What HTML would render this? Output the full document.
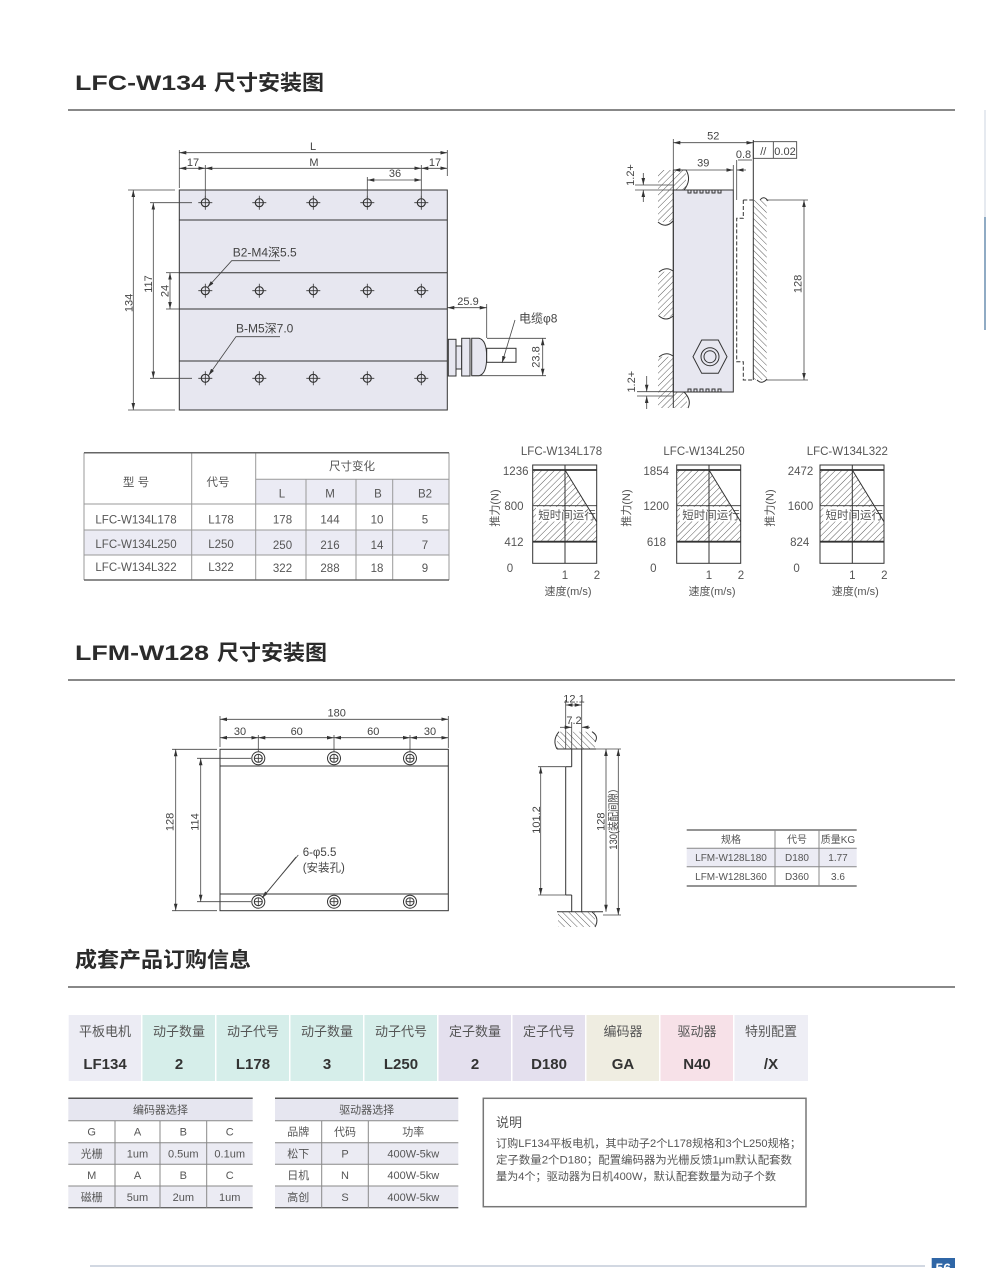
<!DOCTYPE html>
<html><head><meta charset="utf-8">
<style>
html,body{margin:0;padding:0;background:#fff;}
svg{display:block;}
text{font-family:"Liberation Sans","Noto Sans CJK SC",sans-serif;fill:#444;}
.h{font-size:21px;font-weight:bold;fill:#2b2b2b;}
.d{font-size:11px;fill:#444;}
.c{font-size:11.5px;fill:#555;}
.s{font-size:10px;fill:#555;}
.oh{font-size:13px;fill:#555;}
.ov{font-size:15px;font-weight:bold;fill:#333;}
.e{font-size:11px;fill:#555;}
</style></head><body>
<svg width="986" height="1268" viewBox="0 0 986 1268" xmlns="http://www.w3.org/2000/svg">
<defs>
<marker id="ar" viewBox="0 0 10 10" refX="10" refY="5" markerWidth="7" markerHeight="4" markerUnits="userSpaceOnUse" orient="auto-start-reverse" preserveAspectRatio="none"><path d="M0,0.5L10,5L0,9.5z" fill="#333"/></marker>
<pattern id="hf" width="4.5" height="4.5" patternUnits="userSpaceOnUse" patternTransform="rotate(45)"><line x1="0" y1="-1" x2="0" y2="6" stroke="#333" stroke-width="0.8"/></pattern>
<pattern id="hb" width="4.5" height="4.5" patternUnits="userSpaceOnUse" patternTransform="rotate(-45)"><line x1="0" y1="-1" x2="0" y2="6" stroke="#333" stroke-width="0.8"/></pattern>
<g id="h1"><circle r="4" fill="none" stroke="#333" stroke-width="1.2"/><path d="M-7,0H7M0,-7V7" stroke="#333" stroke-width="0.8"/></g>
<g id="h2"><circle r="6.5" fill="#fff" stroke="#333" stroke-width="1"/><circle r="4" fill="none" stroke="#333" stroke-width="1"/><path d="M-4,0H4M0,-4V4" stroke="#333" stroke-width="0.8"/></g>
</defs>

<!-- ===== Section titles ===== -->
<text class="h" x="75" y="90" textLength="131" lengthAdjust="spacingAndGlyphs">LFC-W134</text>
<text class="h" x="214" y="90" textLength="110" lengthAdjust="spacingAndGlyphs">尺寸安装图</text>
<line x1="68" y1="110" x2="955" y2="110" stroke="#888" stroke-width="2"/>

<text class="h" x="75" y="660" textLength="134" lengthAdjust="spacingAndGlyphs">LFM-W128</text>
<text class="h" x="217" y="660" textLength="110" lengthAdjust="spacingAndGlyphs">尺寸安装图</text>
<line x1="68" y1="680" x2="955" y2="680" stroke="#888" stroke-width="2"/>

<text class="h" x="75" y="967" textLength="176" lengthAdjust="spacingAndGlyphs">成套产品订购信息</text>
<line x1="68" y1="987" x2="955" y2="987" stroke="#888" stroke-width="2"/>

<!-- right edge line -->
<line x1="985" y1="110" x2="985" y2="217" stroke="#dde2ea" stroke-width="1.5"/>
<line x1="985" y1="217" x2="985" y2="330" stroke="#6a8fb0" stroke-width="1.5"/>

<!-- ===== Top-left plan view ===== -->
<g stroke="#333" fill="none" stroke-width="1">
<rect x="179.3" y="190" width="268" height="220" fill="#e7e7f0"/>
<line x1="179.3" y1="220" x2="447.3" y2="220"/>
<line x1="179.3" y1="272.7" x2="447.3" y2="272.7"/>
<line x1="179.3" y1="309" x2="447.3" y2="309"/>
<line x1="179.3" y1="361" x2="447.3" y2="361"/>
</g>
<use href="#h1" x="205.3" y="202.7"/><use href="#h1" x="259.3" y="202.7"/><use href="#h1" x="313.3" y="202.7"/><use href="#h1" x="367.3" y="202.7"/><use href="#h1" x="421.3" y="202.7"/>
<use href="#h1" x="205.3" y="290.7"/><use href="#h1" x="259.3" y="290.7"/><use href="#h1" x="313.3" y="290.7"/><use href="#h1" x="367.3" y="290.7"/><use href="#h1" x="421.3" y="290.7"/>
<use href="#h1" x="205.3" y="378.3"/><use href="#h1" x="259.3" y="378.3"/><use href="#h1" x="313.3" y="378.3"/><use href="#h1" x="367.3" y="378.3"/><use href="#h1" x="421.3" y="378.3"/>

<!-- connector -->
<g stroke="#333" stroke-width="1" fill="#e7e7f0">
<rect x="448.3" y="339.3" width="7.7" height="36.7"/>
<rect x="456" y="346" width="5.7" height="23"/>
<rect x="461.7" y="338.3" width="8.3" height="37.7"/>
<path d="M471.7,338.3 H479 Q486.7,340 486.7,357 Q486.7,374 479,375.7 H471.7 Z"/>
<rect x="486.7" y="348.3" width="29.3" height="14" fill="#fff"/>
</g>

<g stroke="#444" stroke-width="0.8" fill="none">
<line x1="179.3" y1="150" x2="179.3" y2="188"/>
<line x1="447.3" y1="150" x2="447.3" y2="176"/>
<line x1="179.3" y1="152.7" x2="447.3" y2="152.7" marker-start="url(#ar)" marker-end="url(#ar)"/>
<line x1="179.3" y1="168.3" x2="205.3" y2="168.3" marker-start="url(#ar)" marker-end="url(#ar)"/>
<line x1="205.3" y1="168.3" x2="421.3" y2="168.3" marker-start="url(#ar)" marker-end="url(#ar)"/>
<line x1="421.3" y1="168.3" x2="447.3" y2="168.3" marker-start="url(#ar)" marker-end="url(#ar)"/>
<line x1="205.3" y1="165" x2="205.3" y2="199"/>
<line x1="421.3" y1="165" x2="421.3" y2="199"/>
<line x1="367.3" y1="177" x2="367.3" y2="199"/>
<line x1="367.3" y1="180" x2="421.3" y2="180" marker-start="url(#ar)" marker-end="url(#ar)"/>
<line x1="128" y1="190" x2="175" y2="190"/>
<line x1="128" y1="410" x2="175" y2="410"/>
<line x1="133.3" y1="190" x2="133.3" y2="410" marker-start="url(#ar)" marker-end="url(#ar)"/>
<line x1="150" y1="202.7" x2="192" y2="202.7"/>
<line x1="150" y1="378.3" x2="192" y2="378.3"/>
<line x1="153.3" y1="202.7" x2="153.3" y2="378.3" marker-start="url(#ar)" marker-end="url(#ar)"/>
<line x1="166" y1="272.7" x2="179" y2="272.7"/>
<line x1="166" y1="309" x2="179" y2="309"/>
<line x1="170" y1="272.7" x2="170" y2="309" marker-start="url(#ar)" marker-end="url(#ar)"/>
<line x1="486.7" y1="304" x2="486.7" y2="338"/>
<line x1="447.3" y1="307.7" x2="486.7" y2="307.7" marker-start="url(#ar)" marker-end="url(#ar)"/>
<line x1="487" y1="338.3" x2="546" y2="338.3"/>
<line x1="472" y1="375.7" x2="546" y2="375.7"/>
<line x1="542.7" y1="338.3" x2="542.7" y2="375.7" marker-start="url(#ar)" marker-end="url(#ar)"/>
<polyline points="280,260.7 231.7,260.7 207.5,287.5" marker-end="url(#ar)"/>
<polyline points="280,336.7 236,336.7 208.5,375.5" marker-end="url(#ar)"/>
<line x1="515" y1="320" x2="502" y2="363" marker-end="url(#ar)"/>
</g>
<text class="d" x="313" y="150" text-anchor="middle">L</text>
<text class="d" x="193" y="166" text-anchor="middle">17</text>
<text class="d" x="314" y="166" text-anchor="middle">M</text>
<text class="d" x="435" y="166" text-anchor="middle">17</text>
<text class="d" x="395" y="177" text-anchor="middle">36</text>
<text class="d" transform="translate(132.5,303) rotate(-90)" text-anchor="middle">134</text>
<text class="d" transform="translate(152,284) rotate(-90)" text-anchor="middle">117</text>
<text class="d" transform="translate(168.5,291) rotate(-90)" text-anchor="middle">24</text>
<text class="d" x="468" y="305" text-anchor="middle">25.9</text>
<text class="d" transform="translate(539.5,357) rotate(-90)" text-anchor="middle">23.8</text>
<text class="d" x="232.7" y="256.7" style="font-size:12px">B2-M4深5.5</text>
<text class="d" x="236" y="332.7" style="font-size:12px">B-M5深7.0</text>
<text class="d" x="519" y="322.7" style="font-size:12px">电缆φ8</text>

<!-- ===== Top-right side view ===== -->
<rect x="658" y="170" width="15" height="52" fill="url(#hf)"/>
<rect x="673" y="170" width="13" height="20" fill="url(#hf)"/>
<rect x="658" y="271.7" width="15" height="45" fill="url(#hf)"/>
<rect x="658" y="356.7" width="15" height="51.3" fill="url(#hf)"/>
<rect x="673" y="392" width="14" height="16" fill="url(#hf)"/>
<rect x="753.3" y="200" width="13.4" height="180" fill="url(#hb)"/>
<g stroke="#333" fill="none" stroke-width="1">
<rect x="673.3" y="190" width="60" height="202" fill="#e7e7f0"/>
<line x1="673.3" y1="170" x2="673.3" y2="408"/>
<path d="M673.3,170 H686 Q692,180 684,190"/>
<path d="M658,222 Q666,229 673,221"/>
<path d="M659,272 Q666,266 673,271"/>
<path d="M659,316 Q666,322 673,316"/>
<path d="M659,357 Q666,351 673,356"/>
<path d="M684,392 Q692,400 688,408"/>
<line x1="753.3" y1="140" x2="753.3" y2="380"/>
<path d="M760,200 Q764,195 768,201"/>
<path d="M757,380 Q762,385 767,379"/>
<path d="M688,190 V193 H691 V190 H694 V193 H697 V190 H700 V193 H703 V190 H706 V193 H709 V190 H712 V193 H715 V190 H718 V193 H721 V190"/>
<path d="M688,392 V389 H691 V392 H694 V389 H697 V392 H700 V389 H703 V392 H706 V389 H709 V392 H712 V389 H715 V392 H718 V389 H721 V392"/>
<polygon points="693,356.7 701.7,340 718.3,340 727,356.7 718.3,373.3 701.7,373.3" fill="#e7e7f0"/>
<circle cx="710" cy="356.7" r="9"/>
<circle cx="710" cy="356.7" r="6"/>
<path d="M743.3,200 H753.3 M743.3,200 V218.3 H736.7 V361.7 H743.3 V380 H753.3" stroke-dasharray="4,2"/>
</g>
<g stroke="#444" stroke-width="0.8" fill="none">
<line x1="673.3" y1="139" x2="673.3" y2="170"/>
<line x1="673.3" y1="142.7" x2="753.3" y2="142.7" marker-start="url(#ar)" marker-end="url(#ar)"/>
<line x1="733.3" y1="165" x2="733.3" y2="190"/>
<line x1="736.7" y1="160" x2="736.7" y2="200"/>
<line x1="673.3" y1="170" x2="733.3" y2="170" marker-start="url(#ar)" marker-end="url(#ar)"/>
<line x1="746" y1="170" x2="736.7" y2="170" marker-end="url(#ar)"/>
<line x1="738" y1="160" x2="752" y2="160"/>
<rect x="753.3" y="141.7" width="43.4" height="16.6" stroke="#333"/>
<line x1="773.3" y1="141.7" x2="773.3" y2="158.3" stroke="#333"/>
<line x1="766" y1="200" x2="808" y2="200"/>
<line x1="766" y1="380" x2="808" y2="380"/>
<line x1="804" y1="200" x2="804" y2="380" marker-start="url(#ar)" marker-end="url(#ar)"/>
<line x1="635" y1="185" x2="673" y2="185"/>
<line x1="635" y1="190" x2="673" y2="190"/>
<line x1="643.3" y1="173" x2="643.3" y2="185" marker-end="url(#ar)"/>
<line x1="643.3" y1="202" x2="643.3" y2="190" marker-end="url(#ar)"/>
<line x1="637" y1="391.7" x2="673" y2="391.7"/>
<line x1="637" y1="396" x2="673" y2="396"/>
<line x1="646.7" y1="376" x2="646.7" y2="391.7" marker-end="url(#ar)"/>
<line x1="646.7" y1="409" x2="646.7" y2="396" marker-end="url(#ar)"/>
</g>
<text class="d" x="713.3" y="139.3" text-anchor="middle">52</text>
<text class="d" x="703.3" y="166.7" text-anchor="middle">39</text>
<text class="d" x="743.5" y="158" text-anchor="middle">0.8</text>
<text class="d" x="763.3" y="155" text-anchor="middle">//</text>
<text class="d" x="785" y="155" text-anchor="middle">0.02</text>
<text class="d" transform="translate(634,175) rotate(-90)" text-anchor="middle">1.2+</text>
<text class="d" transform="translate(635,381.7) rotate(-90)" text-anchor="middle">1.2+</text>
<text class="d" transform="translate(801.5,284) rotate(-90)" text-anchor="middle">128</text>

<!-- ===== Table 1 ===== -->
<rect x="255.7" y="479.3" width="193.3" height="24.7" fill="#ebebf4"/>
<rect x="84" y="530" width="365" height="25" fill="#ebebf4"/>
<g stroke="#999" stroke-width="1" fill="none">
<line x1="84" y1="452.7" x2="84" y2="580"/>
<line x1="449" y1="452.7" x2="449" y2="580"/>
<line x1="191.7" y1="452.7" x2="191.7" y2="580"/>
<line x1="255.7" y1="452.7" x2="255.7" y2="580"/>
<line x1="306" y1="479.3" x2="306" y2="580"/>
<line x1="356" y1="479.3" x2="356" y2="580"/>
<line x1="392.7" y1="479.3" x2="392.7" y2="580"/>
<line x1="255.7" y1="479.3" x2="449" y2="479.3"/>
<line x1="84" y1="504" x2="449" y2="504"/>
<line x1="84" y1="530" x2="449" y2="530"/>
<line x1="84" y1="555" x2="449" y2="555"/>
<line x1="84" y1="452.7" x2="449" y2="452.7" stroke="#666" stroke-width="1.5"/>
<line x1="84" y1="580" x2="449" y2="580" stroke="#666" stroke-width="1.5"/>
</g>
<g class="c" text-anchor="middle">
<text class="c" x="136" y="486" text-anchor="middle">型 号</text>
<text class="c" x="218" y="486" text-anchor="middle">代号</text>
<text class="c" x="352" y="470" text-anchor="middle">尺寸变化</text>
<text class="c" x="282" y="497.5" text-anchor="middle">L</text>
<text class="c" x="330" y="497.5" text-anchor="middle">M</text>
<text class="c" x="378" y="497.5" text-anchor="middle">B</text>
<text class="c" x="425" y="497.5" text-anchor="middle">B2</text>
<text class="c" x="136" y="523.5" text-anchor="middle">LFC-W134L178</text>
<text class="c" x="221" y="523.5" text-anchor="middle">L178</text>
<text class="c" x="282.5" y="523.5" text-anchor="middle">178</text>
<text class="c" x="330" y="523.5" text-anchor="middle">144</text>
<text class="c" x="377" y="523.5" text-anchor="middle">10</text>
<text class="c" x="425" y="523.5" text-anchor="middle">5</text>
<text class="c" x="136" y="548" text-anchor="middle">LFC-W134L250</text>
<text class="c" x="221" y="548" text-anchor="middle">L250</text>
<text class="c" x="282.5" y="549" text-anchor="middle">250</text>
<text class="c" x="330" y="549" text-anchor="middle">216</text>
<text class="c" x="377" y="549" text-anchor="middle">14</text>
<text class="c" x="425" y="549" text-anchor="middle">7</text>
<text class="c" x="136" y="571" text-anchor="middle">LFC-W134L322</text>
<text class="c" x="221" y="571" text-anchor="middle">L322</text>
<text class="c" x="282.5" y="572" text-anchor="middle">322</text>
<text class="c" x="330" y="572" text-anchor="middle">288</text>
<text class="c" x="377" y="572" text-anchor="middle">18</text>
<text class="c" x="425" y="572" text-anchor="middle">9</text>
</g>

<!-- ===== Charts ===== -->
<g id="ch1">
<text class="c" x="561.5" y="455" text-anchor="middle">LFC-W134L178</text>
<polygon points="532.7,470 565,470 596.7,521.7 596.7,541.7 532.7,541.7" fill="url(#hf)"/>
<rect x="536" y="507" width="60.7" height="14.5" fill="#fff"/>
<text class="c" x="567" y="519" text-anchor="middle">短时间运行</text>
<g stroke="#333" fill="none">
<rect x="532.7" y="465" width="64" height="98.3" stroke-width="1"/>
<line x1="532.7" y1="470" x2="596.7" y2="470" stroke-width="1.8"/>
<line x1="532.7" y1="505.7" x2="596.7" y2="505.7" stroke-width="0.8"/>
<line x1="532.7" y1="541.7" x2="596.7" y2="541.7" stroke-width="1.8"/>
<line x1="565" y1="465" x2="565" y2="563.3" stroke-width="1"/>
<line x1="565" y1="470" x2="596.7" y2="521.7" stroke-width="1"/>
</g>
<text class="c" x="528.5" y="475" text-anchor="end">1236</text>
<text class="c" x="523.5" y="510" text-anchor="end">800</text>
<text class="c" x="523.5" y="546" text-anchor="end">412</text>
<text class="c" x="510" y="572" text-anchor="middle">0</text>
<text class="c" x="565" y="579" text-anchor="middle">1</text>
<text class="c" x="597" y="579" text-anchor="middle">2</text>
<text class="c" x="568" y="595" text-anchor="middle" style="font-size:11px">速度(m/s)</text>
<text class="c" transform="translate(498.5,508) rotate(-90)" text-anchor="middle" style="font-size:11px">推力(N)</text>
</g>
<g transform="translate(144,0)">
<text class="c" x="560" y="455" text-anchor="middle">LFC-W134L250</text>
<polygon points="532.7,470 565,470 596.7,521.7 596.7,541.7 532.7,541.7" fill="url(#hf)"/>
<rect x="536" y="507" width="60.7" height="14.5" fill="#fff"/>
<text class="c" x="567" y="519" text-anchor="middle">短时间运行</text>
<g stroke="#333" fill="none">
<rect x="532.7" y="465" width="64" height="98.3" stroke-width="1"/>
<line x1="532.7" y1="470" x2="596.7" y2="470" stroke-width="1.8"/>
<line x1="532.7" y1="505.7" x2="596.7" y2="505.7" stroke-width="0.8"/>
<line x1="532.7" y1="541.7" x2="596.7" y2="541.7" stroke-width="1.8"/>
<line x1="565" y1="465" x2="565" y2="563.3" stroke-width="1"/>
<line x1="565" y1="470" x2="596.7" y2="521.7" stroke-width="1"/>
</g>
<text class="c" x="525" y="475" text-anchor="end">1854</text>
<text class="c" x="525" y="510" text-anchor="end">1200</text>
<text class="c" x="522" y="546" text-anchor="end">618</text>
<text class="c" x="509.3" y="572" text-anchor="middle">0</text>
<text class="c" x="565" y="579" text-anchor="middle">1</text>
<text class="c" x="597" y="579" text-anchor="middle">2</text>
<text class="c" x="568" y="595" text-anchor="middle" style="font-size:11px">速度(m/s)</text>
<text class="c" transform="translate(486,508) rotate(-90)" text-anchor="middle" style="font-size:11px">推力(N)</text>
</g>
<g transform="translate(287.3,0)">
<text class="c" x="560" y="455" text-anchor="middle">LFC-W134L322</text>
<polygon points="532.7,470 565,470 596.7,521.7 596.7,541.7 532.7,541.7" fill="url(#hf)"/>
<rect x="536" y="507" width="60.7" height="14.5" fill="#fff"/>
<text class="c" x="567" y="519" text-anchor="middle">短时间运行</text>
<g stroke="#333" fill="none">
<rect x="532.7" y="465" width="64" height="98.3" stroke-width="1"/>
<line x1="532.7" y1="470" x2="596.7" y2="470" stroke-width="1.8"/>
<line x1="532.7" y1="505.7" x2="596.7" y2="505.7" stroke-width="0.8"/>
<line x1="532.7" y1="541.7" x2="596.7" y2="541.7" stroke-width="1.8"/>
<line x1="565" y1="465" x2="565" y2="563.3" stroke-width="1"/>
<line x1="565" y1="470" x2="596.7" y2="521.7" stroke-width="1"/>
</g>
<text class="c" x="526" y="475" text-anchor="end">2472</text>
<text class="c" x="526" y="510" text-anchor="end">1600</text>
<text class="c" x="522" y="546" text-anchor="end">824</text>
<text class="c" x="509.3" y="572" text-anchor="middle">0</text>
<text class="c" x="565" y="579" text-anchor="middle">1</text>
<text class="c" x="597" y="579" text-anchor="middle">2</text>
<text class="c" x="568" y="595" text-anchor="middle" style="font-size:11px">速度(m/s)</text>
<text class="c" transform="translate(486,508) rotate(-90)" text-anchor="middle" style="font-size:11px">推力(N)</text>
</g>

<!-- ===== Section 2 plan view ===== -->
<g stroke="#333" fill="none" stroke-width="1">
<rect x="220" y="749.3" width="228.3" height="161.4"/>
<line x1="220" y1="766" x2="448.3" y2="766"/>
<line x1="220" y1="894" x2="448.3" y2="894"/>
</g>
<use href="#h2" x="258.3" y="758.3"/><use href="#h2" x="334" y="758.3"/><use href="#h2" x="410" y="758.3"/>
<use href="#h2" x="258.3" y="901.7"/><use href="#h2" x="334" y="901.7"/><use href="#h2" x="410" y="901.7"/>
<g stroke="#444" stroke-width="0.8" fill="none">
<line x1="220" y1="716" x2="220" y2="747"/>
<line x1="448.3" y1="716" x2="448.3" y2="748"/>
<line x1="220" y1="719.3" x2="448.3" y2="719.3" marker-start="url(#ar)" marker-end="url(#ar)"/>
<line x1="220" y1="737.7" x2="258.3" y2="737.7" marker-start="url(#ar)" marker-end="url(#ar)"/>
<line x1="258.3" y1="737.7" x2="334" y2="737.7" marker-start="url(#ar)" marker-end="url(#ar)"/>
<line x1="334" y1="737.7" x2="410" y2="737.7" marker-start="url(#ar)" marker-end="url(#ar)"/>
<line x1="410" y1="737.7" x2="448.3" y2="737.7" marker-start="url(#ar)" marker-end="url(#ar)"/>
<line x1="258.3" y1="735" x2="258.3" y2="752"/>
<line x1="334" y1="735" x2="334" y2="752"/>
<line x1="410" y1="735" x2="410" y2="752"/>
<line x1="172" y1="749.3" x2="217" y2="749.3"/>
<line x1="172" y1="910.7" x2="217" y2="910.7"/>
<line x1="175.7" y1="749.3" x2="175.7" y2="910.7" marker-start="url(#ar)" marker-end="url(#ar)"/>
<line x1="197" y1="758.3" x2="251" y2="758.3"/>
<line x1="197" y1="901.7" x2="251" y2="901.7"/>
<line x1="200.7" y1="758.3" x2="200.7" y2="901.7" marker-start="url(#ar)" marker-end="url(#ar)"/>
<line x1="298.3" y1="855" x2="262" y2="898" marker-end="url(#ar)"/>
<line x1="296" y1="857" x2="264" y2="896"/>
</g>
<text class="d" x="336.7" y="716.7" text-anchor="middle">180</text>
<text class="d" x="240" y="735" text-anchor="middle">30</text>
<text class="d" x="296.7" y="735" text-anchor="middle">60</text>
<text class="d" x="373.3" y="735" text-anchor="middle">60</text>
<text class="d" x="430" y="735" text-anchor="middle">30</text>
<text class="d" transform="translate(173.5,822) rotate(-90)" text-anchor="middle">128</text>
<text class="d" transform="translate(198.5,822) rotate(-90)" text-anchor="middle">114</text>
<text class="d" x="302.7" y="856" style="font-size:11.5px">6-φ5.5</text>
<text class="d" x="302.7" y="871.7" style="font-size:11.5px">(安装孔)</text>

<!-- ===== Section 2 side view ===== -->
<path d="M557,731.7 H595 V749 H557 Z" fill="url(#hb)"/>
<path d="M558,911.7 H595 V927 H558 Z" fill="url(#hb)"/>
<g stroke="#333" fill="none" stroke-width="1">
<path d="M559,731.7 Q552,740 557,749"/>
<path d="M592,731.7 Q599,736 595,742"/>
<line x1="557" y1="749" x2="596" y2="749"/>
<line x1="557" y1="911.7" x2="603" y2="911.7"/>
<path d="M592,912 Q600,918 595,927"/>
<line x1="581.7" y1="749" x2="581.7" y2="911.7"/>
<line x1="565.7" y1="766.7" x2="565.7" y2="895"/>
<line x1="571.7" y1="749" x2="571.7" y2="766.7"/>
<line x1="571.7" y1="895" x2="571.7" y2="911.7"/>
<line x1="565.7" y1="766.7" x2="571.7" y2="766.7"/>
<line x1="565.7" y1="895" x2="571.7" y2="895"/>
</g>
<g stroke="#444" stroke-width="0.8" fill="none">
<line x1="565.7" y1="700" x2="565.7" y2="749"/>
<line x1="581.7" y1="700" x2="581.7" y2="749"/>
<line x1="571.7" y1="722" x2="571.7" y2="749"/>
<line x1="565.7" y1="705" x2="581.7" y2="705" marker-start="url(#ar)" marker-end="url(#ar)"/>
<line x1="560" y1="727.3" x2="571.7" y2="727.3" marker-end="url(#ar)"/>
<line x1="590" y1="727.3" x2="581.7" y2="727.3" marker-end="url(#ar)"/>
<line x1="538" y1="766.7" x2="565.7" y2="766.7"/>
<line x1="538" y1="895" x2="565.7" y2="895"/>
<line x1="540.7" y1="766.7" x2="540.7" y2="895" marker-start="url(#ar)" marker-end="url(#ar)"/>
<line x1="596" y1="749" x2="621" y2="749"/>
<line x1="603" y1="915" x2="621" y2="915"/>
<line x1="606" y1="749" x2="606" y2="911.7" marker-start="url(#ar)" marker-end="url(#ar)"/>
<line x1="618.3" y1="749" x2="618.3" y2="915" marker-start="url(#ar)" marker-end="url(#ar)"/>
</g>
<text class="d" x="574" y="702.3" text-anchor="middle">12.1</text>
<text class="d" x="574" y="724" text-anchor="middle">7.2</text>
<text class="d" transform="translate(540,820) rotate(-90)" text-anchor="middle">101.2</text>
<text class="d" transform="translate(604.5,821.7) rotate(-90)" text-anchor="middle">128</text>
<text class="d" transform="translate(617,816.7) rotate(-90)" text-anchor="middle" textLength="66" lengthAdjust="spacingAndGlyphs">130(装配间隙）</text>

<!-- small table -->
<rect x="686.7" y="848.3" width="170" height="18.4" fill="#ebebf4"/>
<g stroke="#888" stroke-width="1">
<line x1="686.7" y1="830" x2="856.7" y2="830" stroke="#555" stroke-width="1.3"/>
<line x1="686.7" y1="848.3" x2="856.7" y2="848.3"/>
<line x1="686.7" y1="866.7" x2="856.7" y2="866.7"/>
<line x1="686.7" y1="886" x2="856.7" y2="886" stroke="#555" stroke-width="1.3"/>
<line x1="775" y1="830" x2="775" y2="886"/>
<line x1="819" y1="830" x2="819" y2="886"/>
</g>
<text class="s" x="731" y="843" text-anchor="middle">规格</text>
<text class="s" x="797" y="843" text-anchor="middle">代号</text>
<text class="s" x="838" y="843" text-anchor="middle">质量KG</text>
<text class="s" x="731" y="861" text-anchor="middle">LFM-W128L180</text>
<text class="s" x="797" y="861" text-anchor="middle">D180</text>
<text class="s" x="838" y="861" text-anchor="middle">1.77</text>
<text class="s" x="731" y="880" text-anchor="middle">LFM-W128L360</text>
<text class="s" x="797" y="880" text-anchor="middle">D360</text>
<text class="s" x="838" y="880" text-anchor="middle">3.6</text>

<!-- ===== Order table ===== -->
<rect x="68.7" y="1015" width="72.3" height="66" fill="#ececf4"/>
<rect x="142.5" y="1015" width="72.5" height="66" fill="#d6eeea"/>
<rect x="216.5" y="1015" width="72.5" height="66" fill="#d6eeea"/>
<rect x="290.5" y="1015" width="72.5" height="66" fill="#d6eeea"/>
<rect x="364.5" y="1015" width="72.5" height="66" fill="#d6eeea"/>
<rect x="438.5" y="1015" width="72.5" height="66" fill="#e4e0ee"/>
<rect x="512.5" y="1015" width="72.5" height="66" fill="#e4e0ee"/>
<rect x="586.5" y="1015" width="72.5" height="66" fill="#efede1"/>
<rect x="660.5" y="1015" width="72.5" height="66" fill="#f7e1e8"/>
<rect x="734.5" y="1015" width="73.5" height="66" fill="#eeeef5"/>
<g text-anchor="middle">
<text class="oh" x="105" y="1036" text-anchor="middle">平板电机</text>
<text class="oh" x="179" y="1036" text-anchor="middle">动子数量</text>
<text class="oh" x="253" y="1036" text-anchor="middle">动子代号</text>
<text class="oh" x="327" y="1036" text-anchor="middle">动子数量</text>
<text class="oh" x="401" y="1036" text-anchor="middle">动子代号</text>
<text class="oh" x="475" y="1036" text-anchor="middle">定子数量</text>
<text class="oh" x="549" y="1036" text-anchor="middle">定子代号</text>
<text class="oh" x="623" y="1036" text-anchor="middle">编码器</text>
<text class="oh" x="697" y="1036" text-anchor="middle">驱动器</text>
<text class="oh" x="771" y="1036" text-anchor="middle">特别配置</text>
<text class="ov" x="105" y="1069" text-anchor="middle">LF134</text>
<text class="ov" x="179" y="1069" text-anchor="middle">2</text>
<text class="ov" x="253" y="1069" text-anchor="middle">L178</text>
<text class="ov" x="327" y="1069" text-anchor="middle">3</text>
<text class="ov" x="401" y="1069" text-anchor="middle">L250</text>
<text class="ov" x="475" y="1069" text-anchor="middle">2</text>
<text class="ov" x="549" y="1069" text-anchor="middle">D180</text>
<text class="ov" x="623" y="1069" text-anchor="middle">GA</text>
<text class="ov" x="697" y="1069" text-anchor="middle">N40</text>
<text class="ov" x="771" y="1069" text-anchor="middle">/X</text>
</g>

<!-- encoder table -->
<rect x="68.3" y="1098.3" width="184.4" height="22.4" fill="#e6e6f0"/>
<rect x="68.3" y="1142.7" width="184.4" height="21.6" fill="#ebebf3"/>
<rect x="68.3" y="1186" width="184.4" height="21.7" fill="#ebebf3"/>
<g stroke="#888" stroke-width="1">
<line x1="68.3" y1="1098.3" x2="252.7" y2="1098.3" stroke="#555" stroke-width="1.5"/>
<line x1="68.3" y1="1120.7" x2="252.7" y2="1120.7"/>
<line x1="68.3" y1="1142.7" x2="252.7" y2="1142.7"/>
<line x1="68.3" y1="1164.3" x2="252.7" y2="1164.3"/>
<line x1="68.3" y1="1186" x2="252.7" y2="1186"/>
<line x1="68.3" y1="1207.7" x2="252.7" y2="1207.7" stroke="#666" stroke-width="1.3"/>
<line x1="115" y1="1120.7" x2="115" y2="1207.7"/>
<line x1="160" y1="1120.7" x2="160" y2="1207.7"/>
<line x1="206.7" y1="1120.7" x2="206.7" y2="1207.7"/>
</g>
<text class="e" x="160.5" y="1113.5" text-anchor="middle">编码器选择</text>
<text class="e" x="91.7" y="1135.5" text-anchor="middle">G</text>
<text class="e" x="137.5" y="1135.5" text-anchor="middle">A</text>
<text class="e" x="183.3" y="1135.5" text-anchor="middle">B</text>
<text class="e" x="229.7" y="1135.5" text-anchor="middle">C</text>
<text class="e" x="91.7" y="1157.5" text-anchor="middle">光栅</text>
<text class="e" x="137.5" y="1157.5" text-anchor="middle">1um</text>
<text class="e" x="183.3" y="1157.5" text-anchor="middle">0.5um</text>
<text class="e" x="229.7" y="1157.5" text-anchor="middle">0.1um</text>
<text class="e" x="91.7" y="1179" text-anchor="middle">M</text>
<text class="e" x="137.5" y="1179" text-anchor="middle">A</text>
<text class="e" x="183.3" y="1179" text-anchor="middle">B</text>
<text class="e" x="229.7" y="1179" text-anchor="middle">C</text>
<text class="e" x="91.7" y="1201" text-anchor="middle">磁栅</text>
<text class="e" x="137.5" y="1201" text-anchor="middle">5um</text>
<text class="e" x="183.3" y="1201" text-anchor="middle">2um</text>
<text class="e" x="229.7" y="1201" text-anchor="middle">1um</text>

<!-- driver table -->
<rect x="275" y="1098.3" width="183.3" height="22.4" fill="#e6e6f0"/>
<rect x="275" y="1142.7" width="183.3" height="21.6" fill="#ebebf3"/>
<rect x="275" y="1186" width="183.3" height="21.7" fill="#ebebf3"/>
<g stroke="#888" stroke-width="1">
<line x1="275" y1="1098.3" x2="458.3" y2="1098.3" stroke="#555" stroke-width="1.5"/>
<line x1="275" y1="1120.7" x2="458.3" y2="1120.7"/>
<line x1="275" y1="1142.7" x2="458.3" y2="1142.7"/>
<line x1="275" y1="1164.3" x2="458.3" y2="1164.3"/>
<line x1="275" y1="1186" x2="458.3" y2="1186"/>
<line x1="275" y1="1207.7" x2="458.3" y2="1207.7" stroke="#666" stroke-width="1.3"/>
<line x1="321.7" y1="1120.7" x2="321.7" y2="1207.7"/>
<line x1="368.3" y1="1120.7" x2="368.3" y2="1207.7"/>
</g>
<text class="e" x="366.7" y="1113.5" text-anchor="middle">驱动器选择</text>
<text class="e" x="298.3" y="1135.5" text-anchor="middle">品牌</text>
<text class="e" x="345" y="1135.5" text-anchor="middle">代码</text>
<text class="e" x="413.3" y="1135.5" text-anchor="middle">功率</text>
<text class="e" x="298.3" y="1157.5" text-anchor="middle">松下</text>
<text class="e" x="345" y="1157.5" text-anchor="middle">P</text>
<text class="e" x="413.3" y="1157.5" text-anchor="middle">400W-5kw</text>
<text class="e" x="298.3" y="1179" text-anchor="middle">日机</text>
<text class="e" x="345" y="1179" text-anchor="middle">N</text>
<text class="e" x="413.3" y="1179" text-anchor="middle">400W-5kw</text>
<text class="e" x="298.3" y="1201" text-anchor="middle">高创</text>
<text class="e" x="345" y="1201" text-anchor="middle">S</text>
<text class="e" x="413.3" y="1201" text-anchor="middle">400W-5kw</text>

<!-- explanation box -->
<rect x="483.3" y="1098.3" width="322.7" height="108.4" fill="#fff" stroke="#777" stroke-width="1.5"/>
<text x="496" y="1127" style="font-size:13px;fill:#555">说明</text>
<text class="e" x="496" y="1147" textLength="305" lengthAdjust="spacingAndGlyphs">订购LF134平板电机，其中动子2个L178规格和3个L250规格；</text>
<text class="e" x="496" y="1163.5" textLength="296" lengthAdjust="spacingAndGlyphs">定子数量2个D180；配置编码器为光栅反馈1μm默认配套数</text>
<text class="e" x="496" y="1180" textLength="280" lengthAdjust="spacingAndGlyphs">量为4个；驱动器为日机400W，默认配套数量为动子个数</text>

<!-- footer -->
<line x1="90" y1="1266" x2="925" y2="1266" stroke="#c3ccd8" stroke-width="1.5"/>
<rect x="931.7" y="1258" width="23.3" height="10" fill="#2f66a6"/>
<text x="943.3" y="1273" text-anchor="middle" style="font-size:14px;font-weight:bold;fill:#fff">56</text>
</svg>
</body></html>
